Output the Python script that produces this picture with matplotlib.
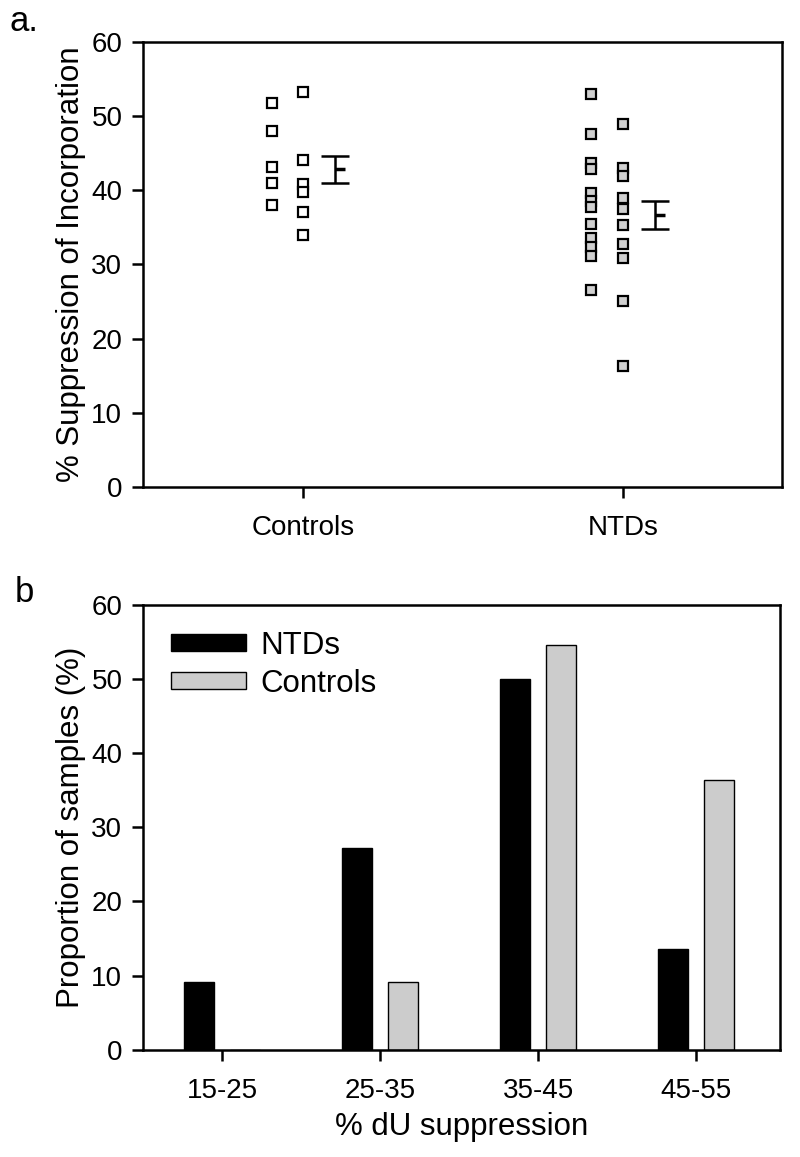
import matplotlib
matplotlib.use('Agg')
import matplotlib.pyplot as plt
import numpy as np

plt.rcParams['font.family'] = ['Liberation Sans', 'DejaVu Sans']

# panel a: individual values, two jittered columns per group
groups = ['Controls', 'NTDs']
controls_col1 = [51.7, 47.9, 43.1, 40.9, 38.0]
controls_col2 = [53.2, 44.0, 40.8, 39.7, 37.0, 34.0]
ntds_col1 = [53.0, 47.5, 43.7, 42.8, 39.6, 38.5, 37.7, 35.4, 33.5, 32.3, 31.1, 26.6]
ntds_col2 = [48.9, 43.0, 41.9, 38.9, 37.5, 35.3, 32.7, 30.9, 25.0, 16.3]
group_means = [42.8, 36.6]
group_sem = [1.8, 1.9]

# panel b: distribution by bins
bins = ['15-25', '25-35', '35-45', '45-55']
ntds_pct = [9.09, 27.27, 50.0, 13.64]
controls_pct = [0.0, 9.09, 54.55, 36.36]

tick_fs = 20
label_fs = 22.5
fig = plt.figure(figsize=(8, 11.57), dpi=100)

ax1 = fig.add_axes([0.179, 0.579, 0.799, 0.385])
ax2 = fig.add_axes([0.179, 0.0925, 0.796, 0.385])

# ---- panel a
mk = dict(marker='s', ls='none', markersize=7, markeredgewidth=1.6, markeredgecolor='black')
ax1.plot(np.full(len(controls_col1), 1 - 0.1), controls_col1, markerfacecolor='white', **mk)
ax1.plot(np.full(len(controls_col2), 1.0), controls_col2, markerfacecolor='white', **mk)
ax1.plot(np.full(len(ntds_col1), 2 - 0.1), ntds_col1, markerfacecolor='#d0d0d0', **mk)
ax1.plot(np.full(len(ntds_col2), 2.0), ntds_col2, markerfacecolor='#d0d0d0', **mk)

mean_x = np.array([1, 2]) + 0.1
ax1.errorbar(mean_x, group_means, yerr=group_sem, fmt='none', ecolor='black',
             elinewidth=1.8, capsize=10, capthick=1.8)
ax1.plot(mean_x, group_means, ls='none', marker=1, markersize=7,
         markeredgewidth=2.5, color='black')

ax1.set_xlim(0.498, 2.50)
ax1.set_ylim(0, 60)
ax1.set_xticks([1, 2])
ax1.set_xticklabels(groups)
ax1.set_yticks(np.arange(0, 61, 10))
ax1.set_ylabel('% Suppression of Incorporation', fontsize=label_fs, labelpad=4)

# ---- panel b
w = 0.19
x = np.arange(len(bins))
ax2.bar(x - 0.146, ntds_pct, w, color='black', edgecolor='black', linewidth=1, label='NTDs')
ax2.bar(x + 0.146, controls_pct, w, color='#cccccc', edgecolor='black', linewidth=1, label='Controls')
ax2.set_xlim(-0.5, 3.53)
ax2.set_ylim(0, 60)
ax2.set_xticks(x)
ax2.set_xticklabels(bins)
ax2.set_yticks(np.arange(0, 61, 10))
ax2.set_ylabel('Proportion of samples (%)', fontsize=label_fs, labelpad=4)
ax2.set_xlabel('% dU suppression', fontsize=label_fs, labelpad=6)
ax2.legend(loc='upper left', frameon=False, fontsize=label_fs, handlelength=2.4,
           handleheight=0.45, handletextpad=0.45, labelspacing=0.25,
           borderaxespad=0.3, bbox_to_anchor=(0.01, 0.99))

for ax in (ax1, ax2):
    for s in ax.spines.values():
        s.set_linewidth(1.8)
    ax.tick_params(direction='out', length=8, width=1.8, labelsize=tick_fs, top=False, right=False)
    ax.tick_params(axis='x', pad=12)
    ax.tick_params(axis='y', pad=7)

fig.text(0.012, 0.996, 'a.', fontsize=25, va='top', ha='left')
fig.text(0.018, 0.502, 'b', fontsize=25, va='top', ha='left')

fig.savefig('out.png', dpi=100)
